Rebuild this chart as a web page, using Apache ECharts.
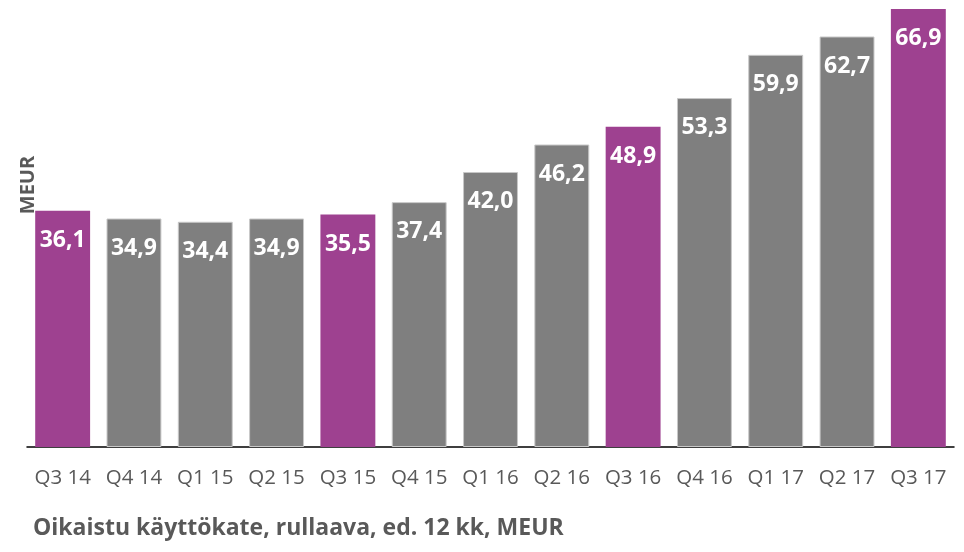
<!DOCTYPE html>
<html>
<head>
<meta charset="utf-8">
<script src="https://cdn.jsdelivr.net/npm/echarts@6/dist/echarts.min.js"></script>
<style>
  html, body { margin: 0; padding: 0; background: #fff; }
  #chart { width: 964px; height: 552px; }
</style>
</head>
<body>
<div id="chart"></div>
<script>
// quarters and rolling 12 month adjusted EBITDA (MEUR)
var categories = ['Q3 14', 'Q4 14', 'Q1 15', 'Q2 15', 'Q3 15', 'Q4 15', 'Q1 16', 'Q2 16', 'Q3 16', 'Q4 16', 'Q1 17', 'Q2 17', 'Q3 17'];
var values = [36.1, 34.9, 34.4, 34.9, 35.5, 37.4, 42.0, 46.2, 48.9, 53.3, 59.9, 62.7, 66.9];

var purple = '#9e4190';
var grey = '#7f7f7f';
var textGrey = '#595959';
var font = '"Open Sans", "DejaVu Sans", sans-serif';

var myChart = echarts.init(document.getElementById('chart'));

var option = {
    animation: false,
    grid: {
        left: 27,
        right: 10,
        top: 9,
        bottom: 105
    },
    xAxis: {
        type: 'category',
        data: categories,
        axisLine: { lineStyle: { color: '#000', width: 1.5 } },
        axisTick: { show: false },
        axisLabel: {
            interval: 0,
            hideOverlap: false,
            color: textGrey,
            fontFamily: font,
            fontSize: 20.5,
            margin: 21
        }
    },
    yAxis: {
        type: 'value',
        min: 0,
        max: Math.max.apply(null, values),
        show: false
    },
    series: [{
        type: 'bar',
        barCategoryGap: '23%',
        data: values.map(function (v, i) {
            var q3 = categories[i].indexOf('Q3') === 0;
            return {
                value: v,
                itemStyle: {
                    color: q3 ? purple : grey,
                    borderColor: q3 ? purple : '#c8c8c8',
                    borderWidth: q3 ? 0 : 1
                }
            };
        }),
        label: {
            show: true,
            position: 'insideTop',
            distance: 18,
            color: '#fff',
            fontFamily: font,
            fontWeight: 'bold',
            fontSize: 23,
            formatter: function (p) {
                return p.value.toFixed(1).replace('.', ',');
            }
        }
    }],
    graphic: [{
        type: 'text',
        x: 28,
        y: 185,
        rotation: Math.PI / 2,
        style: {
            text: 'MEUR',
            fill: textGrey,
            font: 'bold 20px ' + font,
            align: 'center',
            verticalAlign: 'middle'
        }
    }, {
        type: 'text',
        left: 33,
        top: 517,
        style: {
            text: 'Oikaistu käyttökate, rullaava, ed. 12 kk, MEUR',
            fill: textGrey,
            font: 'bold 23px ' + font
        }
    }]
};

myChart.setOption(option);
</script>
</body>
</html>
